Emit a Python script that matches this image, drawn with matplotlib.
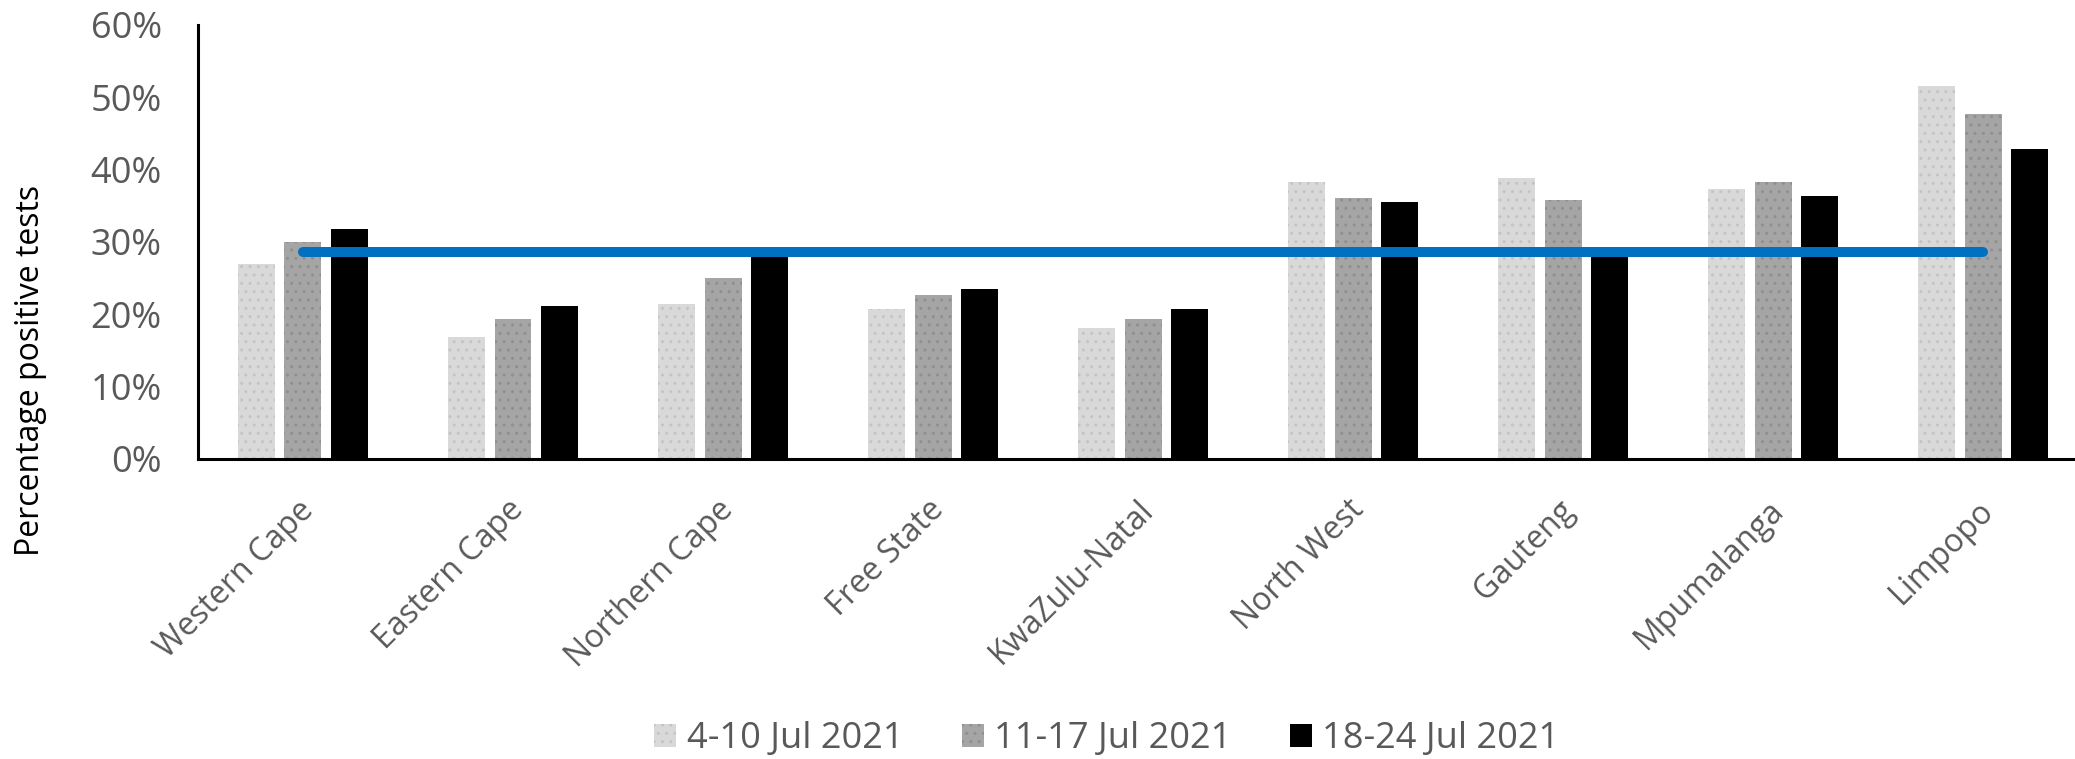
import matplotlib.pyplot as plt
import matplotlib.transforms as mtransforms
import numpy as np

plt.rcParams['font.family'] = ['Open Sans', 'DejaVu Sans']
plt.rcParams['hatch.linewidth'] = 1.0

provinces = ['Western Cape', 'Eastern Cape', 'Northern Cape', 'Free State',
             'KwaZulu-Natal', 'North West', 'Gauteng', 'Mpumalanga', 'Limpopo']
weeks = ['4-10 Jul 2021', '11-17 Jul 2021', '18-24 Jul 2021']
wk1 = [0.270, 0.169, 0.214, 0.207, 0.181, 0.383, 0.389, 0.373, 0.515]
wk2 = [0.300, 0.194, 0.250, 0.227, 0.194, 0.361, 0.358, 0.383, 0.477]
wk3 = [0.318, 0.212, 0.288, 0.235, 0.207, 0.355, 0.284, 0.364, 0.429]
national = [0.286] * len(provinces)

fig = plt.figure(figsize=(20.75, 7.59), dpi=100)
ax = fig.add_axes([0.0954, 0.3953, 0.911, 0.5718])

x = np.arange(len(provinces))
w = 0.176
step = 0.222
colors = ['#d9d9d9', '#a5a5a5', '#000000']
hatch_col = ['#c4c4c4', '#8f8f8f', '#000000']
hatches = ['..', '..', None]
for i, (vals, lab) in enumerate(zip([wk1, wk2, wk3], weeks)):
    ax.bar(x + (i - 1) * step, vals, width=w, color=colors[i], edgecolor=hatch_col[i],
           linewidth=0, hatch=hatches[i], label=lab, zorder=2)

ax.plot(x, national, color='#0070c0', lw=7.2, solid_capstyle='round', zorder=3)

ax.set_xlim(-0.5, 8.5)
ax.set_ylim(0, 0.6)
ax.set_yticks(np.arange(0, 0.61, 0.1))
ax.set_yticklabels([f'{int(round(v * 100))}%' for v in np.arange(0, 0.61, 0.1)])
ax.set_xticks(x)
ax.set_xticklabels(provinces, rotation=45, ha='right', va='top', rotation_mode='anchor')
ax.tick_params(axis='both', length=0, labelcolor='#595959')
ax.tick_params(axis='y', pad=26, labelsize=26)
ax.tick_params(axis='x', pad=25, labelsize=23)
offset = mtransforms.ScaledTranslation(-0.06, 0, fig.dpi_scale_trans)
for lbl in ax.get_xticklabels():
    lbl.set_transform(lbl.get_transform() + offset)

for s in ['top', 'right']:
    ax.spines[s].set_visible(False)
for s in ['left', 'bottom']:
    ax.spines[s].set_linewidth(2.2)
    ax.spines[s].set_color('black')

fig.text(0.0145, 0.5125, 'Percentage positive tests', rotation=90, ha='center', va='center',
         fontsize=23, color='black')

leg = fig.legend(loc='center', bbox_to_anchor=(0.5335, 0.026), ncol=3, frameon=False,
                 fontsize=26, handlelength=0.61, handleheight=0.61, handletextpad=0.3,
                 columnspacing=1.6)
for t in leg.get_texts():
    t.set_color('#595959')

fig.savefig('out.png', dpi=100)
